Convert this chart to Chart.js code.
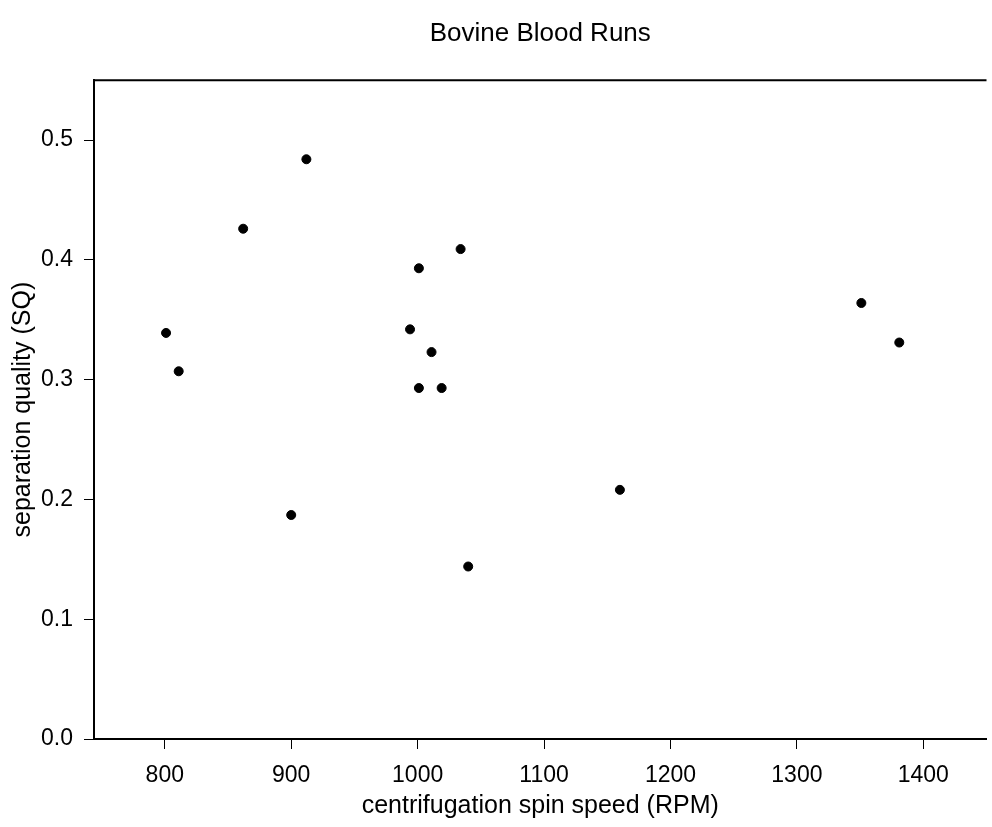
<!DOCTYPE html>
<html>
<head>
<meta charset="utf-8">
<script src="https://cdn.jsdelivr.net/npm/chart.js@4"></script>
<style>
  html, body { margin: 0; padding: 0; background: #fff; }
  #wrap { width: 992px; height: 827px; }
</style>
</head>
<body>
<div id="wrap"><canvas id="myChart" width="992" height="827"></canvas></div>
<script>
// spin speed (RPM) and separation quality
var rpm = [801, 811, 862, 900, 912, 994, 1001, 1001, 1011, 1019, 1034, 1040, 1160, 1351, 1381];
var sq = [0.339, 0.307, 0.426, 0.187, 0.484, 0.342, 0.393, 0.293, 0.323, 0.293, 0.409, 0.144, 0.208, 0.364, 0.331];
var xTicks = [800, 900, 1000, 1100, 1200, 1300, 1400];
var yTicks = [0.0, 0.1, 0.2, 0.3, 0.4, 0.5];

var font = "'Liberation Sans', Arial, sans-serif";

var pts = [];
for (var i = 0; i < rpm.length; i++) {
    pts.push({x: rpm[i], y: sq[i]});
}

// top frame line
const topLine = {
    id: 'topLine',
    afterDraw: function (chart) {
        var a = chart.chartArea, c = chart.ctx;
        c.save();
        c.strokeStyle = '#000';
        c.lineWidth = 2;
        c.beginPath();
        c.moveTo(a.left - 1, a.top);
        c.lineTo(a.right, a.top);
        c.stroke();
        c.restore();
    }
};

const ctx = document.getElementById('myChart');
new Chart(ctx, {
    type: 'scatter',
    data: {
        datasets: [{
            data: pts,
            backgroundColor: '#000',
            borderColor: '#000',
            pointRadius: 4.5,
            pointHoverRadius: 4.5
        }]
    },
    options: {
        responsive: false,
        animation: false,
        layout: {padding: {left: 0, right: 0, top: 0, bottom: 0}},
        plugins: {
            legend: {display: false},
            tooltip: {enabled: false},
            title: {
                display: true,
                text: 'Bovine Blood Runs',
                fullSize: false,
                color: '#000',
                font: {family: font, size: 26, weight: 'normal'},
                padding: {top: 18, bottom: 31}
            }
        },
        scales: {
            x: {
                type: 'linear',
                min: 744,
                max: 1450,
                afterFit: function (s) { s.height = 88; },
                afterBuildTicks: function (s) {
                    s.ticks = xTicks.map(function (v) { return {value: v}; });
                },
                grid: {drawOnChartArea: false, drawTicks: true, tickLength: 10, color: '#000', tickWidth: 1},
                border: {display: true, color: '#000', width: 2},
                ticks: {
                    color: '#000', padding: 13, font: {family: font, size: 23},
                    callback: function (v) { return String(v); }
                },
                title: {
                    display: true,
                    text: 'centrifugation spin speed (RPM)',
                    color: '#000',
                    font: {family: font, size: 25},
                    padding: {top: 0, bottom: 6}
                }
            },
            y: {
                type: 'linear',
                min: 0,
                max: 0.55,
                afterFit: function (s) { s.width = 94; },
                afterBuildTicks: function (s) {
                    s.ticks = yTicks.map(function (v) { return {value: v}; });
                },
                grid: {drawOnChartArea: false, drawTicks: true, tickLength: 10, color: '#000', tickWidth: 1},
                border: {display: true, color: '#000', width: 2},
                ticks: {
                    color: '#000', padding: 11, font: {family: font, size: 23},
                    callback: function (v) { return v.toFixed(1); }
                },
                title: {
                    display: true,
                    text: 'separation quality (SQ)',
                    color: '#000',
                    font: {family: font, size: 25},
                    padding: {top: 8, bottom: 0}
                }
            }
        }
    },
    plugins: [topLine]
});
</script>
</body>
</html>
